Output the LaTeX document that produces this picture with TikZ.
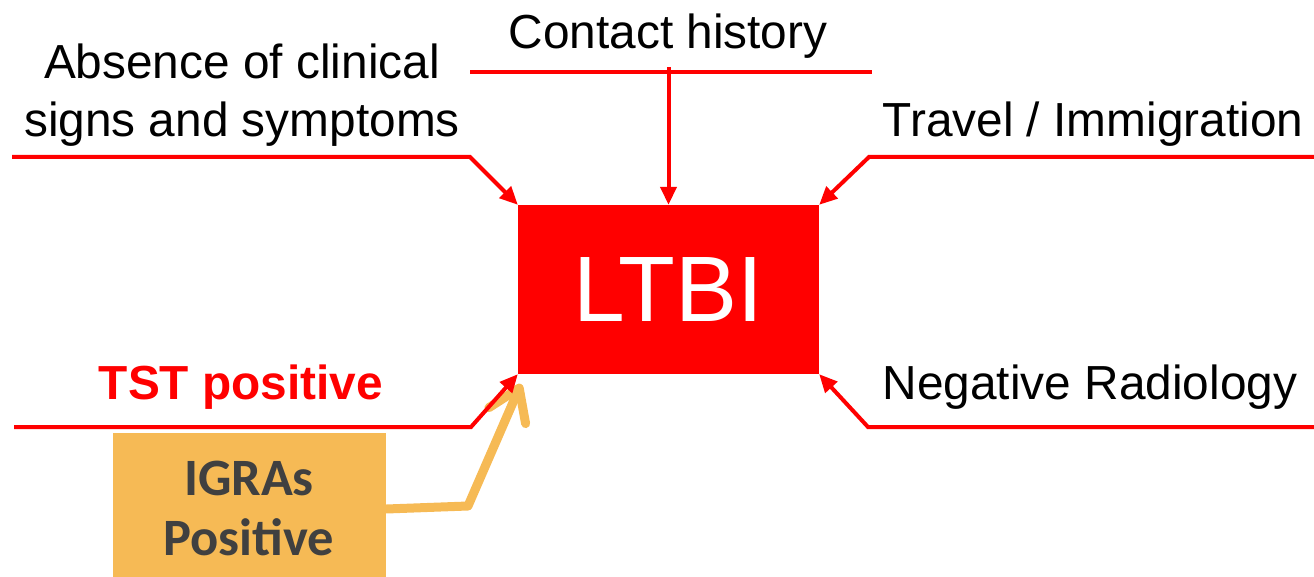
\documentclass[tikz,border=0pt]{standalone}
\usepackage{fontspec}
\setmainfont{Liberation Sans}
\newfontfamily\calfont{Carlito}
\usetikzlibrary{arrows.meta}
\definecolor{myred}{RGB}{255,0,0}
\definecolor{myorange}{RGB}{246,186,85}
\definecolor{mygray}{RGB}{64,64,64}
\tikzset{
  redline/.style={draw=myred, line width=4pt},
  redarrow/.style={redline, -{Triangle[length=18pt,width=16pt]}},
  orangearrow/.style={draw=myorange, line width=9pt, line cap=round, line join=round, -{Straight Barb[length=30pt,width=40pt,round]}},
  lbl/.style={anchor=base, inner sep=0pt, font=\fontsize{47.8}{56}\selectfont},
}
\begin{document}
\begin{tikzpicture}[x=1pt,y=-1pt]
\useasboundingbox (0,0) rectangle (1314,577);
% main box
\node[fill=myred, minimum width=301pt, minimum height=169pt, inner sep=0pt, text=white, font=\fontsize{93}{100}\selectfont] (ltbi) at (668.5,289.5) {\raisebox{-5pt}{LTBI}};
% IGRAs box
\node[fill=myorange, minimum width=273pt, minimum height=144pt, inner sep=0pt, anchor=north west] (igra) at (113,433) {};
\node[anchor=base, inner sep=0pt, text=mygray, font=\calfont\bfseries\fontsize{52.5}{60}\selectfont] (igra1) at (249,495) {IGRAs};
\node[anchor=base, inner sep=0pt, text=mygray, font=\calfont\bfseries\fontsize{52.5}{60}\selectfont] (igra2) at (249,555) {Positive};
% labels
\node[lbl] (abs1) at (242,79) {Absence of clinical};
\node[lbl] (abs2) at (242,137) {signs and symptoms};
\node[lbl] (contact) at (668,49) {Contact history};
\node[lbl] (travel) at (1093,137) {Travel / Immigration};
\node[lbl, text=myred, font=\fontsize{47.8}{56}\selectfont\bfseries] (tst) at (241,399) {TST positive};
\node[lbl] (neg) at (1090,399) {Negative Radiology};
% coordinates
\coordinate (a1) at (12,157);
\coordinate (a2) at (470,157);
\coordinate (c1) at (470,72);
\coordinate (c2) at (872,72);
\coordinate (c3) at (668.5,67);
\coordinate (t1) at (1314,157);
\coordinate (t2) at (869,157);
\coordinate (s1) at (14,427);
\coordinate (s2) at (471,427);
\coordinate (n1) at (1314,427);
\coordinate (n2) at (868,427);
\coordinate (o1) at (468,506);
\coordinate (o2) at (521,384);
% orange connector
\draw[orangearrow] (igra.east |- 0,509) -- (o1) -- (o2);
% red connectors
\draw[redarrow] (a1) -- (a2) -- (ltbi.north west);
\draw[redline] (c1) -- (c2);
\draw[redarrow] (c3) -- (ltbi.north);
\draw[redarrow] (t1) -- (t2) -- (ltbi.north east);
\draw[redarrow] (s1) -- (s2) -- (ltbi.south west);
\draw[redarrow] (n1) -- (n2) -- (ltbi.south east);
\end{tikzpicture}
\end{document}
